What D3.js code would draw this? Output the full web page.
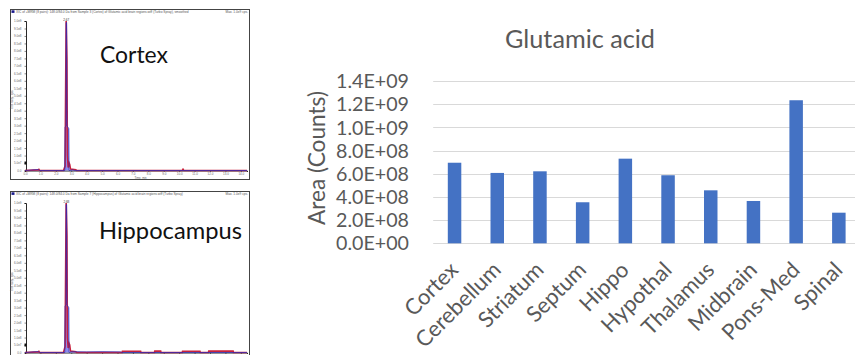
<!DOCTYPE html>
<html><head><meta charset="utf-8">
<script src="https://cdn.jsdelivr.net/npm/d3@7"></script>
<style>html,body{margin:0;padding:0;background:#fff;} svg{display:block}</style>
</head><body>
<svg id="c" width="855" height="355"></svg>
<script>
// ---------- bar chart data ----------
const chartTitle = "Glutamic acid";
const yAxisTitle = "Area (Counts)";
const categories = ["Cortex","Cerebellum","Striatum","Septum","Hippo","Hypothal","Thalamus","Midbrain","Pons-Med","Spinal"];
const areaCounts = [6.95e8, 6.07e8, 6.21e8, 3.54e8, 7.30e8, 5.87e8, 4.57e8, 3.65e8, 1.234e9, 2.64e8];
const yTickValues = [0, 2e8, 4e8, 6e8, 8e8, 1.0e9, 1.2e9, 1.4e9];

// ---------- chromatogram thumbnails data ----------
const panelNames = ["Cortex", "Hippocampus"];
const chromTimeTicks = [0,1,2,3,4,5,6,7,8,9,10,11,12,13,14];
const chromIntensityTicks = [0,0.5e8,1e8,1.5e8,2e8,2.5e8,3e8,3.5e8,4e8,4.5e8,5e8,5.5e8,6e8,6.5e8,7e8,7.5e8,8e8,8.5e8,9e8,9.5e8,1e9];
const peakTimes = [2.67, 2.68];
const cortexBlue = [[0,0],[0.85,0.006e9],[0.95,0],[2.58,0],[2.6,0.29e9],[2.66,0.3e9],[2.67,0.99e9],[2.7,0.99e9],[2.72,0.3e9],[2.84,0.28e9],[2.86,0],[3.1,0.004e9],[3.25,0],[14.4,0]];
const cortexRed = [[0,0],[0.85,0.004e9],[0.9,0.008e9],[0.95,0],[2.5,0],[2.6,0.03e9],[2.64,0.6e9],[2.67,1.0e9],[2.72,0.74e9],[2.75,0.1e9],[2.8,0.02e9],[2.86,0.05e9],[2.9,0.04e9],[2.95,0.01e9],[3.3,0.005e9],[3.35,0],[10.2,0],[10.25,0.008e9],[10.3,0],[14.4,0]];
const hippoBlue = [[0,0],[0.85,0.006e9],[0.95,0],[2.58,0],[2.6,0.31e9],[2.66,0.32e9],[2.67,0.99e9],[2.7,0.99e9],[2.72,0.32e9],[2.84,0.3e9],[2.86,0],[3.0,0.005e9],[4.0,0.004e9],[5.0,0.005e9],[6.2,0.004e9],[6.3,0],[14.4,0]];
const hippoRed = [[0,0],[0.85,0.004e9],[0.9,0.008e9],[0.95,0],[2.5,0],[2.6,0.04e9],[2.64,0.6e9],[2.67,1.0e9],[2.72,0.78e9],[2.75,0.1e9],[2.8,0.03e9],[2.86,0.06e9],[2.9,0.05e9],[2.95,0.01e9],[3.3,0.005e9],[3.35,0],
  [6.3,0],[6.32,0.008e9],[7.5,0.008e9],[7.52,0],[8.4,0],[8.42,0.009e9],[8.8,0.009e9],[8.82,0],[10.2,0],[10.22,0.008e9],[11.35,0.008e9],[11.37,0],[11.9,0],[11.92,0.009e9],[13.5,0.009e9],[13.52,0],[14.4,0]];
const panelData = [{red: cortexRed, blue: cortexBlue}, {red: hippoRed, blue: hippoBlue}];

const svg = d3.select("#c");
const FONT = "Lato, 'Open Sans', sans-serif";
const GRAY = "#595959";
const TINY = "'Liberation Sans', Arial, sans-serif";

function fitFont(sel, target) {
  const w = sel.node().getComputedTextLength();
  const fs = parseFloat(sel.attr("font-size"));
  const nf = fs * target / w;
  sel.attr("font-size", nf);
  return nf;
}

// ================= chromatogram panels =================
const panelTops = [9.5, 191.5];
const nameX = [100, 99], nameY = [63, 239];
const nameWidth = [68, 143];
panelTops.forEach((top, i) => {
  const g = svg.append("g");
  const data = panelData[i];
  g.append("rect").attr("x", 10.5).attr("y", top).attr("width", 239).attr("height", 170)
    .attr("fill", "#fff").attr("stroke", "#444").attr("stroke-width", 1);
  // header
  g.append("rect").attr("x", 11.5).attr("y", top + 0.8).attr("width", 3).attr("height", 2.6).attr("fill", "#1a1a8c");
  g.append("text").attr("x", 16).attr("y", top + 3.3).attr("font-size", 3.2).attr("fill", "#555")
    .attr("font-family", TINY)
    .text(i === 0 ? "XIC of +MRM (8 pairs): 148.0/84.0 Da from Sample 3 (Cortex) of Glutamic acid brain regions.wiff (Turbo Spray), smoothed"
                  : "XIC of +MRM (8 pairs): 148.0/84.0 Da from Sample 7 (Hippocampus) of Glutamic acid brain regions.wiff (Turbo Spray)");
  g.append("text").attr("x", 248).attr("y", top + 3.3).attr("font-size", 3.2).attr("fill", "#555")
    .attr("text-anchor", "end").attr("font-family", TINY).text("Max. 1.0e9 cps.");

  const axisY = top + 161;
  const x = d3.scaleLinear().domain([0, 14.4]).range([25, 247]);
  const y = d3.scaleLinear().domain([0, 1.0e9]).range([axisY, top + 11.5]);

  const xa = g.append("g").attr("transform", `translate(0,${axisY})`)
    .call(d3.axisBottom(x).tickValues(chromTimeTicks).tickSize(1.5).tickPadding(0.8).tickFormat(d3.format(".1f")));
  const ya = g.append("g").attr("transform", `translate(26,0)`)
    .call(d3.axisLeft(y).tickValues(chromIntensityTicks).tickSize(1.5).tickFormat(d => d === 0 ? "0.0" : d3.format(".1e")(d).replace("+", "")));
  [xa, ya].forEach(a => {
    a.selectAll("path").attr("stroke", "#111").attr("stroke-width", 0.9);
    a.selectAll("line").attr("stroke", "#111").attr("stroke-width", 0.5);
    a.selectAll("text").attr("font-size", 3).attr("fill", "#666").attr("font-family", TINY);
  });
  xa.selectAll("text").attr("dy", "0.71em");
  if (i === 1) xa.selectAll("text").remove(); // below the visible area in the reference
  if (i === 0) {
    g.append("text").attr("x", 140.6).attr("y", axisY + 8.2).attr("font-size", 2.8).attr("fill", "#666")
      .attr("text-anchor", "middle").attr("font-family", TINY).text("Time, min");
  }
  g.append("text").attr("transform", `translate(13,${top + 90}) rotate(-90)`).attr("font-size", 3.2).attr("fill", "#666")
    .attr("text-anchor", "middle").attr("font-family", TINY).text("Intensity, cps");
  g.append("rect").attr("x", 24.5).attr("y", y(0.05e9) - 1.5).attr("width", 2).attr("height", 3).attr("fill", "#111");

  const area = d3.area().x(d => x(d[0])).y0(axisY).y1(d => y(d[1]));
  const line = d3.line().x(d => x(d[0])).y(d => y(d[1]));
  g.append("path").datum(data.blue).attr("d", area).attr("fill", "#8a8aee").attr("stroke", "none");
  g.append("path").datum(data.red).attr("d", line).attr("fill", "none").attr("stroke", "#c8203c").attr("stroke-width", 1.6);
  g.append("path").datum(data.blue).attr("d", line).attr("fill", "none").attr("stroke", "#2a2ab8").attr("stroke-width", 1).attr("opacity", 0.75);
  g.append("text").attr("x", x(peakTimes[i])).attr("y", top + 11).attr("font-size", 3).attr("fill", "#333")
    .attr("text-anchor", "middle").attr("font-family", TINY).text(peakTimes[i].toFixed(2));

  const nm = g.append("text").attr("x", nameX[i]).attr("y", nameY[i]).attr("font-size", 22)
    .attr("font-family", FONT).attr("fill", "#111").text(panelNames[i]);
  fitFont(nm, nameWidth[i]);
});

// ================= bar chart =================
const plotLeft = 433.2, plotRight = 860.2, plotTop = 81, plotBottom = 243.3;
const xb = d3.scaleBand().domain(categories).range([plotLeft, plotRight]).paddingInner(0.684).paddingOuter(0.342);
const yb = d3.scaleLinear().domain([0, 1.4e9]).range([plotBottom, plotTop]);

function excelSci(v) {
  const [m, e] = v.toExponential(1).split("e");
  const ex = parseInt(e, 10);
  return m + "E" + (ex < 0 ? "-" : "+") + String(Math.abs(ex)).padStart(2, "0");
}

const grid = svg.append("g");
grid.selectAll("line").data(yTickValues).join("line")
  .attr("x1", plotLeft).attr("x2", plotRight)
  .attr("y1", d => Math.round(yb(d)) + 0.5).attr("y2", d => Math.round(yb(d)) + 0.5)
  .attr("stroke", "#d9d9d9").attr("stroke-width", 1);

const yAxis = svg.append("g").attr("transform", `translate(${409},0)`)
  .call(d3.axisLeft(yb).tickValues(yTickValues).tickSize(0).tickPadding(0).tickFormat(excelSci));
yAxis.select(".domain").remove();
yAxis.selectAll("text").attr("font-family", FONT).attr("fill", GRAY).attr("font-size", 20).attr("dy", "0.34em");
const probe = yAxis.selectAll("text").filter(d => d === 1.4e9);
const tfs = fitFont(probe, 73);
yAxis.selectAll("text").attr("font-size", tfs);

svg.append("g").selectAll("rect").data(areaCounts).join("rect")
  .attr("x", (d, i) => xb(categories[i]))
  .attr("width", xb.bandwidth())
  .attr("y", d => yb(d))
  .attr("height", d => yb(0) - yb(d))
  .attr("fill", "#4472c4");

const xAxis = svg.append("g").attr("transform", `translate(0,${plotBottom})`)
  .call(d3.axisBottom(xb).tickSize(0).tickPadding(0));
xAxis.select(".domain").remove();
xAxis.selectAll("text")
  .attr("font-family", FONT).attr("fill", GRAY).attr("font-size", 24)
  .attr("text-anchor", "end").attr("dy", 0).attr("y", 0)
  .attr("transform", `translate(5,28) rotate(-45)`);
const cprobe = xAxis.selectAll("text").filter(d => d === "Cerebellum");
const cfs = fitFont(cprobe, 110);
xAxis.selectAll("text").attr("font-size", cfs);

const title = svg.append("text").attr("x", 580).attr("y", 48.3).attr("text-anchor", "middle")
  .attr("font-family", FONT).attr("fill", GRAY).attr("font-size", 25).text(chartTitle);
fitFont(title, 150);

const yt = svg.append("text").attr("transform", "translate(325,158) rotate(-90)").attr("text-anchor", "middle")
  .attr("font-family", FONT).attr("fill", GRAY).attr("font-size", 24).text(yAxisTitle);
fitFont(yt, 134);
</script>
</body></html>
